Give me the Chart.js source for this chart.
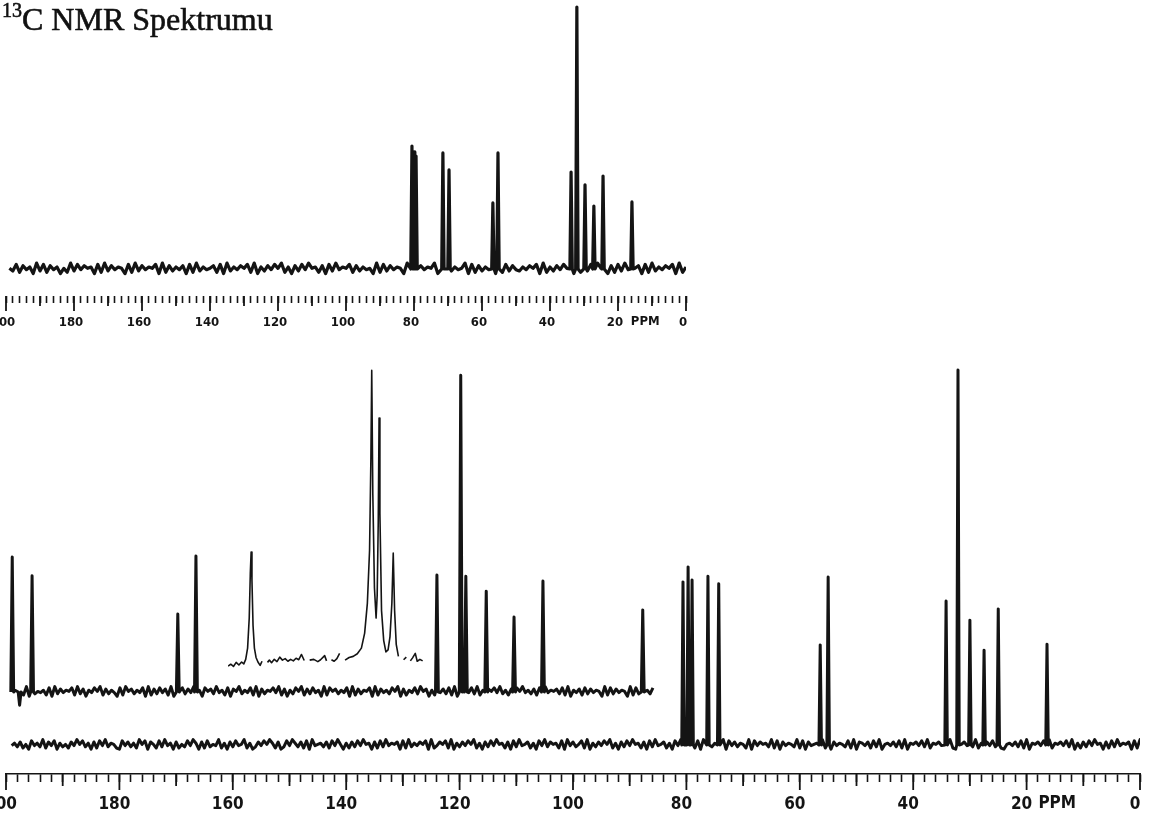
<!DOCTYPE html>
<html>
<head>
<meta charset="utf-8">
<script src="https://cdn.jsdelivr.net/npm/chart.js@4.4.1/dist/chart.umd.min.js"></script>
<style>
html,body{margin:0;padding:0;background:#fff;}
body{width:1153px;height:820px;position:relative;overflow:hidden;}
#title{position:absolute;left:2px;top:1px;font-family:"Liberation Serif","Times New Roman",serif;font-size:32px;line-height:36px;color:#111;white-space:nowrap;-webkit-text-stroke:0.6px #111;}
#title .iso{position:relative;top:-13px;font-size:20px;}
canvas{position:absolute;}
#cTop{left:0;top:0;}
#cMain{left:0;top:340px;}
#cInset{left:228px;top:340px;}
</style>
</head>
<body>
<canvas id="cTop" width="700" height="340"></canvas>
<canvas id="cMain" width="1153" height="480"></canvas>
<canvas id="cInset" width="196" height="340"></canvas>
<div id="title"><span class="iso">13</span>C NMR Spektrumu</div>
<script>
// ---------------- DATA ----------------
const majorTickValues = [200, 180, 160, 140, 120, 100, 80, 60, 40, 20, 0];
const unitLabel = 'PPM';

// upper (small) spectrum : peak positions (ppm) and heights
const topPeakPpm    = [80.6, 80.0, 79.4, 71.5, 69.7, 56.8, 55.3, 33.8, 32.1, 29.7, 27.1, 24.4, 15.9];
const topPeakHeight = [46.9, 44.7, 43.1, 44.3, 37.8, 25.2, 44.3, 37.0, 100, 32.1, 24.0, 35.5, 25.6];
// baseline noise of upper spectrum, one digit per ppm from 199 ppm downwards
const topNoise = '53827461938274615293847561829374651829374658192736' +
                 '47182936457281936475829163748592617384956271839465' +
                 '82736451928374651928374659182736459182736451928374' +
                 '36475819263748591627384956172839465718293647581926';

// main spectrum (lower trace)
const mainPeakPpm    = [80.6, 79.7, 79.0, 76.2, 74.3, 56.4, 55.0, 34.2, 32.1, 30.0, 27.5, 25.0, 16.4];
const mainPeakHeight = [43.5, 47.5, 44.0, 45.0, 43.0, 26.7, 44.8, 38.4, 100, 33.3, 25.3, 36.3, 26.9];
// baseline noise, one digit per 0.5 ppm from 199 ppm downwards
const mainNoise = '46372518463927481635274958361728493652184736295817' +
                  '52839461725384961728354926173845926137485962713849' +
                  '63728194563728495162738495617283946571829364758192' +
                  '47582916374859261738495627183945726184937562819473' +
                  '58291637485926173849562718394572618493756281947365' +
                  '29184736529184756392817465392817456392817465382917' +
                  '64728391564738291657483926574839216574839265748392' +
                  '15647382916574839265748391627384956172839465718293';

// raised low-field part of the main spectrum
const lowPeakPpm    = [198.9, 197.6, 195.4, 169.7, 166.5, 124.0, 119.8, 118.9, 115.3, 110.4, 105.3, 87.7];
const lowPeakHeight = [36, -3.5, 31, 20.8, 36.3, 31.2, 84.5, 30.9, 26.9, 20, 29.6, 21.9];
// baseline noise, one digit per 0.5 ppm from 198.4 ppm downwards
const lowNoise = '64829173546281937465829371648592736418295736481927' +
                 '38472916583749261857394628175936482917365849271638' +
                 '59273846192857364819273658192746385917264839571628' +
                 '47382916574839261758493627185946372819465738291647' +
                 '28374651928374651928374638';

// expansion inset (125 - 117.8 ppm)
const insetPpm = [125.00,124.90,124.80,124.70,124.60,124.50,124.42,124.35,124.28,124.22,124.18,124.15,124.12,124.08,124.03,123.97,123.90,123.82,123.75,123.65,123.55,123.48,123.40,123.30,123.20,123.10,123.00,122.90,122.80,122.70,122.60,122.50,122.40,122.30,122.20,122.10,122.00,121.85,121.70,121.60,121.45,121.38,121.30,121.20,121.10,121.00,120.90,120.80,120.70,120.55,120.40,120.25,120.10,119.98,119.88,119.80,119.75,119.72,119.68,119.62,119.56,119.52,119.48,119.45,119.42,119.36,119.28,119.20,119.12,119.05,118.98,118.93,118.88,118.82,118.74,118.65,118.55,118.45,118.38,118.30,118.22,118.12,118.05,117.95,117.85];
const insetVal = [-0.8,-0.3,-0.9,0.2,-0.5,0.3,-0.2,1.0,4.0,12.0,24.0,29.6,22.0,10.0,4.0,1.5,0.3,-0.6,0.5,null,0.2,0.8,0.1,1.0,0.4,1.6,0.8,1.2,0.5,1.0,0.6,1.3,0.9,2.3,0.7,null,0.8,1.0,0.4,0.9,2.0,0.6,null,0.9,0.5,1.2,2.6,null,0.8,1.5,1.8,2.5,4.0,8.0,16.0,30.0,55.0,78.0,45.0,20.0,12.0,18.0,38.0,65.3,40.0,14.0,6.0,3.0,3.5,7.0,16.0,29.3,14.0,5.0,1.8,null,0.9,1.6,null,0.6,1.4,2.6,0.5,1.0,0.6];

// ---------------- BUILD ----------------
function buildTrace(noise, start, step, amp, peaks, heights, hw) {
  const pts = [];
  for (let i = 0; i < noise.length; i++) {
    const x = start - i * step;
    if (peaks.some(p => Math.abs(p - x) < hw * 1.5)) continue;
    pts.push({x: x, y: (Number(noise[i]) - 4.5) * amp});
  }
  peaks.forEach((p, k) => {
    pts.push({x: p + hw, y: 0});
    pts.push({x: p, y: heights[k]});
    pts.push({x: p - hw, y: 0});
  });
  pts.sort((a, b) => b.x - a.x);
  return pts;
}

const INK = '#141414';
const labelFont = '"Liberation Sans Narrow","DejaVu Sans Condensed","Arial Narrow",sans-serif';

function rulerPlugin(id, midLen, majorLen, ppmLabelValue, fontSize, labelY) {
  return {
    id: id,
    afterDraw(chart) {
      const s = chart.scales.x, ctx = chart.ctx;
      ctx.save();
      ctx.strokeStyle = INK;
      ctx.lineWidth = 1.8;
      for (let v = 0; v <= 200; v += 10) {
        const px = s.getPixelForValue(v);
        const len = (v % 20 === 0) ? majorLen : midLen;
        ctx.beginPath();
        ctx.moveTo(px, s.top);
        ctx.lineTo(px, s.top + len);
        ctx.stroke();
      }
      ctx.fillStyle = INK;
      ctx.font = 'bold ' + fontSize + 'px ' + labelFont;
      ctx.textAlign = 'center';
      ctx.textBaseline = 'middle';
      ctx.fillText(unitLabel, s.getPixelForValue(ppmLabelValue), s.top + labelY);
      ctx.restore();
    }
  };
}

function xAxis(tickLen, pad, fontSize, height, border, labelOffset) {
  return {
    type: 'linear', reverse: true, min: 0, max: 200, position: 'bottom',
    border: {display: border, color: INK, width: 1.4},
    grid: {drawOnChartArea: false, drawTicks: true, tickLength: tickLen, tickWidth: 1.6, tickColor: INK},
    ticks: {
      stepSize: 2, autoSkip: false, maxRotation: 0, minRotation: 0, padding: pad,
      labelOffset: labelOffset, color: INK,
      font: {family: labelFont, size: fontSize, weight: 'bold'},
      callback: v => majorTickValues.includes(v) ? String(v) : ''
    },
    afterFit(scale) { scale.height = height; scale.paddingLeft = 0; scale.paddingRight = 0; }
  };
}

const common = {
  responsive: false, animation: false, devicePixelRatio: 1,
  plugins: {legend: {display: false}, tooltip: {enabled: false}, title: {display: false}},
  elements: {point: {radius: 0}, line: {tension: 0, borderColor: INK, borderJoinStyle: 'round'}}
};

// ---- upper spectrum ----
new Chart(document.getElementById('cTop'), {
  type: 'line',
  data: {datasets: [{
    data: buildTrace(topNoise, 199, 1, 0.5, topPeakPpm, topPeakHeight, 0.35),
    borderColor: INK, borderWidth: 3.2
  }]},
  options: Object.assign({}, common, {
    layout: {padding: {left: 6, right: 14, top: 0, bottom: 0}},
    scales: {
      x: xAxis(7, 12, 13, 44, false, -3),
      y: {display: false, min: -10.31, max: 102.67}
    }
  }),
  plugins: [rulerPlugin('rulerTop', 10, 15, 12.0, 13, 26)]
});

// ---- main spectrum ----
new Chart(document.getElementById('cMain'), {
  type: 'line',
  data: {datasets: [
    {data: buildTrace(mainNoise, 199, 0.5, 0.32, mainPeakPpm, mainPeakHeight, 0.22),
     borderColor: INK, borderWidth: 3.0, yAxisID: 'y'},
    {data: buildTrace(lowNoise, 198.4, 0.5, 0.32, lowPeakPpm, lowPeakHeight, 0.25),
     borderColor: INK, borderWidth: 3.0, yAxisID: 'y2'}
  ]},
  options: Object.assign({}, common, {
    layout: {padding: {left: 6, right: 13, top: 0, bottom: 0}},
    scales: {
      x: xAxis(8, 12, 17, 46, true, -5),
      y: {display: false, min: -7.73, max: 108.0},
      y2: {display: false, min: -21.86, max: 93.87}
    }
  }),
  plugins: [rulerPlugin('rulerMain', 12, 16, 14.6, 17, 30)]
});

// ---- expansion inset ----
new Chart(document.getElementById('cInset'), {
  type: 'line',
  data: {datasets: [{
    data: insetPpm.map((p, i) => ({x: p, y: insetVal[i]})),
    borderColor: INK, borderWidth: 1.6, spanGaps: false
  }]},
  options: Object.assign({}, common, {
    layout: {padding: 0},
    scales: {
      x: {type: 'linear', reverse: true, min: 117.8, max: 125.0, display: false},
      y: {display: false, min: -4.5, max: 86.1}
    }
  })
});
</script>
</body>
</html>
